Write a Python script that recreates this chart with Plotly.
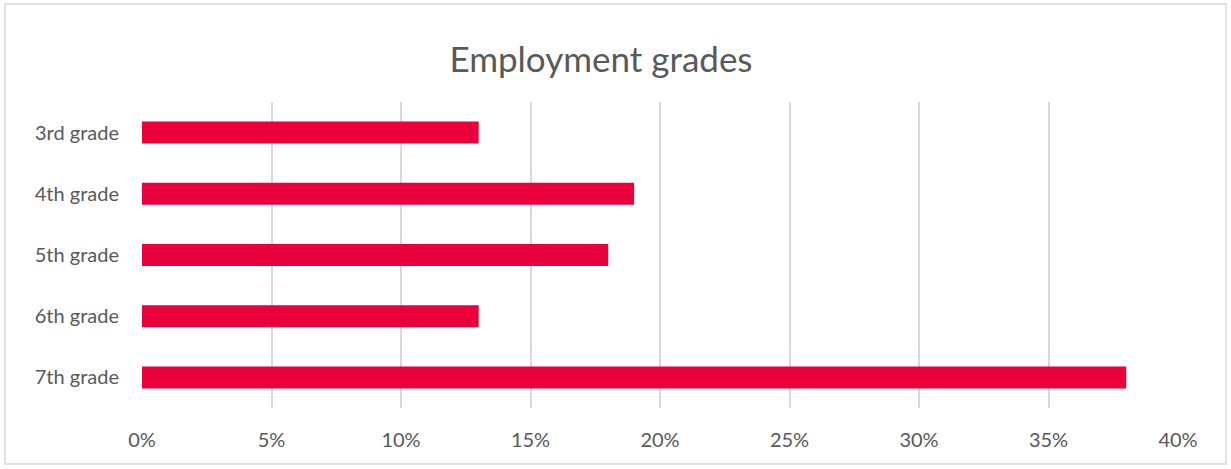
import plotly.graph_objects as go

categories = ["3rd grade", "4th grade", "5th grade", "6th grade", "7th grade"]
values = [0.13, 0.19, 0.18, 0.13, 0.38]
tick_vals = [0, 0.05, 0.10, 0.15, 0.20, 0.25, 0.30, 0.35, 0.40]
tick_text = ["0%", "5%", "10%", "15%", "20%", "25%", "30%", "35%", "40%"]

W, H = 1231, 469
L, R, T, B = 142, 53, 102, 61
pw, ph = W - L - R, H - T - B

fig = go.Figure(go.Bar(
    x=values, y=categories, orientation="h",
    marker=dict(color="#EA003A", line=dict(width=0)),
))

font = "Lato, 'Open Sans', sans-serif"
fig.update_layout(
    width=W, height=H,
    margin=dict(l=L, r=R, t=T, b=B),
    paper_bgcolor="white", plot_bgcolor="white",
    bargap=0.64,
    showlegend=False,
    font=dict(family=font, color="#595959", size=20),
    title=dict(text="Employment grades", x=601 / W, xanchor="center", xref="container",
               y=1 - 60 / H, yanchor="middle", yref="container",
               font=dict(size=35, color="#595959", family=font)),
    xaxis=dict(range=[0, 0.40], tickvals=tick_vals, ticktext=tick_text,
               showgrid=True, gridcolor="#D9D9D9", gridwidth=1.5,
               zeroline=False, showline=False, ticks="", ticklabelstandoff=18,
               tickfont=dict(size=20)),
    yaxis=dict(categoryorder="array", categoryarray=categories, autorange="reversed",
               showgrid=False, zeroline=False, showline=False, ticks="",
               ticklabelstandoff=22, tickfont=dict(size=20)),
    shapes=[dict(type="rect", xref="paper", yref="paper",
                 x0=(5 - L) / pw, x1=(1226 - L) / pw,
                 y0=(H - B - 464) / ph, y1=(H - B - 4) / ph,
                 line=dict(color="#D9D9D9", width=1.5), fillcolor="rgba(0,0,0,0)", layer="below")],
)

fig.write_html("out.html", config={"displayModeBar": False},
               post_script="document.body.style.margin='0';document.body.style.overflow='hidden';")
